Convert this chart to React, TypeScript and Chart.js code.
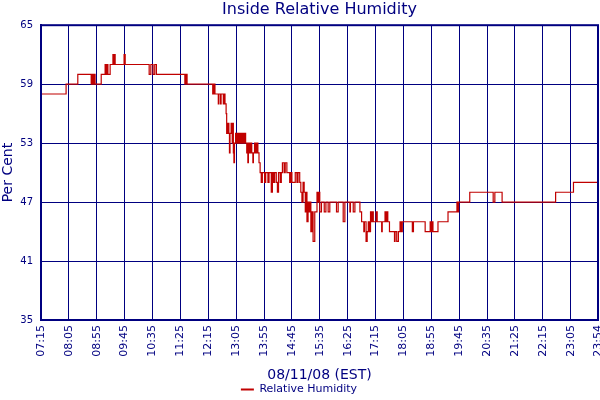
import React, { useEffect, useRef } from 'react';
import { Chart, registerables } from 'chart.js';

Chart.register(...registerables);

const NAVY = '#000080';
const LINE_RED = '#c00000';
const FONT = '"DejaVu Sans", Verdana, sans-serif';

// times (EST, 08/11/08) at which the reading changed, and the new value
const readingTimes = [
  '07:15', '08:00', '08:21', '08:45', '08:47', '08:48', '08:50', '08:52', '09:03', '09:10',
  '09:12', '09:13', '09:15', '09:19', '09:24', '09:25', '09:27', '09:28', '09:44', '09:46',
  '10:29', '10:32', '10:36', '10:39', '10:42', '11:33', '11:35', '11:37', '12:23', '12:25',
  '12:27', '12:33', '12:34', '12:37', '12:38', '12:42', '12:43', '12:45', '12:47', '12:48',
  '12:50', '12:52', '12:53', '12:54', '12:56', '12:58', '12:59', '13:00', '13:01', '13:02',
  '13:04', '13:06', '13:08', '13:10', '13:12', '13:14', '13:16', '13:18', '13:20', '13:22',
  '13:24', '13:25', '13:26', '13:27', '13:29', '13:31', '13:33', '13:35', '13:36', '13:38',
  '13:40', '13:42', '13:44', '13:46', '13:48', '13:50', '13:52', '13:56', '13:58', '14:02',
  '14:04', '14:08', '14:10', '14:12', '14:14', '14:17', '14:19', '14:21', '14:24', '14:26',
  '14:28', '14:31', '14:33', '14:36', '14:41', '14:43', '14:45', '14:51', '14:54', '14:56',
  '14:59', '15:01', '15:03', '15:05', '15:07', '15:09', '15:10', '15:12', '15:14', '15:16',
  '15:18', '15:19', '15:21', '15:23', '15:26', '15:30', '15:32', '15:33', '15:35', '15:38',
  '15:43', '15:46', '15:50', '15:53', '16:05', '16:08', '16:17', '16:20', '16:29', '16:30',
  '16:35', '16:38', '16:47', '16:50', '16:54', '16:55', '16:58', '17:00', '17:02', '17:04',
  '17:06', '17:08', '17:09', '17:11', '17:16', '17:18', '17:26', '17:27', '17:32', '17:34',
  '17:35', '17:37', '17:40', '17:49', '17:50', '17:53', '17:56', '17:59', '18:01', '18:03',
  '18:21', '18:23', '18:44', '18:53', '18:55', '18:56', '18:58', '19:07', '19:25', '19:41',
  '19:42', '19:44', '20:04', '20:46', '20:49', '21:02', '22:38', '23:10', '23:54',
];

const humidity = [
  58, 59, 60, 59, 60, 59, 60, 59, 60, 61,
  60, 61, 60, 61, 62, 61, 62, 61, 62, 61,
  60, 61, 60, 61, 60, 59, 60, 59, 58, 59,
  58, 57, 58, 57, 58, 57, 58, 57, 56, 54,
  55, 54, 52, 54, 55, 53, 55, 52, 51, 53,
  54, 53, 54, 53, 54, 53, 54, 53, 54, 53,
  52, 53, 51, 53, 52, 53, 52, 51, 52, 53,
  52, 53, 52, 51, 50, 49, 50, 49, 50, 49,
  50, 48, 50, 49, 50, 49, 48, 50, 49, 50,
  51, 50, 51, 50, 49, 50, 49, 50, 49, 50,
  49, 48, 47, 49, 48, 46, 48, 45, 47, 46,
  47, 44, 46, 43, 46, 48, 47, 48, 46, 47,
  46, 47, 46, 47, 46, 47, 45, 47, 46, 47,
  46, 47, 46, 45, 44, 45, 43, 44, 45, 44,
  46, 45, 46, 45, 46, 45, 44, 45, 46, 45,
  46, 45, 44, 43, 44, 43, 44, 45, 44, 45,
  44, 45, 44, 45, 44, 45, 44, 45, 46, 47,
  46, 47, 48, 47, 48, 47, 48, 49, 49,
];

const yTicks = [35, 41, 47, 53, 59, 65];

const xTickLabels = [
  '07:15', '08:05', '08:55', '09:45', '10:35', '11:25', '12:15', '13:05', '13:55', '14:45',
  '15:35', '16:25', '17:15', '18:05', '18:55', '19:45', '20:35', '21:25', '22:15', '23:05', '23:54',
];

const toMinutes = (t: string) => {
  const [h, m] = t.split(':').map(Number);
  return h * 60 + m;
};
const pad2 = (n: number) => String(n).padStart(2, '0');
const toClock = (v: number) => `${pad2(Math.floor(v / 60))}:${pad2(Math.round(v) % 60)}`;

// navy frame round the plot area
const plotFrame = {
  id: 'plotFrame',
  afterDraw(chart: any) {
    const { ctx, chartArea: a } = chart;
    ctx.save();
    ctx.strokeStyle = NAVY;
    ctx.lineWidth = 2;
    ctx.strokeRect(a.left, a.top, a.right - a.left, a.bottom - a.top);
    ctx.restore();
  },
};

export default function App() {
  const canvasRef = useRef<HTMLCanvasElement>(null);
  const chartRef = useRef<Chart | null>(null);

  useEffect(() => {
    if (!canvasRef.current) return;
    if (chartRef.current) chartRef.current.destroy();

    const points = readingTimes.map((t, i) => ({ x: toMinutes(t), y: humidity[i] }));
    const xTickValues = xTickLabels.map(toMinutes);

    chartRef.current = new Chart(canvasRef.current, {
      type: 'line',
      data: {
        datasets: [
          {
            label: 'Relative Humidity',
            data: points,
            stepped: true,
            borderColor: LINE_RED,
            backgroundColor: LINE_RED,
            borderWidth: 1.2,
            pointRadius: 0,
            fill: false,
          },
        ],
      },
      options: {
        animation: false,
        responsive: false,
        devicePixelRatio: 1,
        layout: { padding: { top: 0, right: 2, bottom: -5, left: 0 } },
        plugins: {
          title: {
            display: true,
            text: 'Inside Relative Humidity',
            color: NAVY,
            fullSize: false,
            font: { family: FONT, size: 16, weight: 'normal' },
            padding: { top: 0, bottom: 6 },
          },
          legend: {
            position: 'bottom',
            labels: {
              color: NAVY,
              font: { family: FONT, size: 11 },
              boxWidth: 13,
              boxHeight: 2,
              padding: 0,
              generateLabels: () => [
                {
                  text: 'Relative Humidity',
                  fillStyle: LINE_RED,
                  strokeStyle: LINE_RED,
                  lineWidth: 0,
                  fontColor: NAVY,
                  datasetIndex: 0,
                },
              ],
            },
          },
          tooltip: { enabled: false },
        },
        scales: {
          x: {
            type: 'linear',
            min: xTickValues[0],
            max: xTickValues[xTickValues.length - 1],
            afterBuildTicks: (scale: any) => {
              scale.ticks = xTickValues.map((v) => ({ value: v }));
            },
            afterFit: (scale: any) => {
              scale.paddingLeft = 0;
              scale.paddingRight = 0;
              scale.height = 64;
            },
            ticks: {
              autoSkip: false,
              minRotation: 90,
              maxRotation: 90,
              padding: 5,
              color: NAVY,
              font: { family: FONT, size: 11 },
              callback: (v: any) => toClock(Number(v)),
            },
            grid: { color: NAVY, lineWidth: 1, drawTicks: false },
            border: { color: NAVY, width: 2 },
            title: {
              display: true,
              text: '08/11/08 (EST)',
              color: NAVY,
              font: { family: FONT, size: 14 },
              padding: 0,
            },
          },
          y: {
            min: 35,
            max: 65,
            afterBuildTicks: (scale: any) => {
              scale.ticks = yTicks.map((v) => ({ value: v }));
            },
            afterFit: (scale: any) => {
              scale.width = 41;
            },
            ticks: {
              padding: 8,
              color: NAVY,
              font: { family: FONT, size: 10 },
            },
            grid: { color: NAVY, lineWidth: 1, drawTicks: false },
            border: { color: NAVY, width: 2 },
            title: {
              display: true,
              text: 'Per Cent',
              color: NAVY,
              font: { family: FONT, size: 14 },
              padding: 0,
            },
          },
        },
      },
      plugins: [plotFrame],
    });

    return () => {
      if (chartRef.current) {
        chartRef.current.destroy();
        chartRef.current = null;
      }
    };
  }, []);

  return (
    <div style={{ position: 'fixed', left: 0, top: 0, width: 600, height: 400, background: '#fff' }}>
      <canvas ref={canvasRef} width={600} height={400}></canvas>
    </div>
  );
}
